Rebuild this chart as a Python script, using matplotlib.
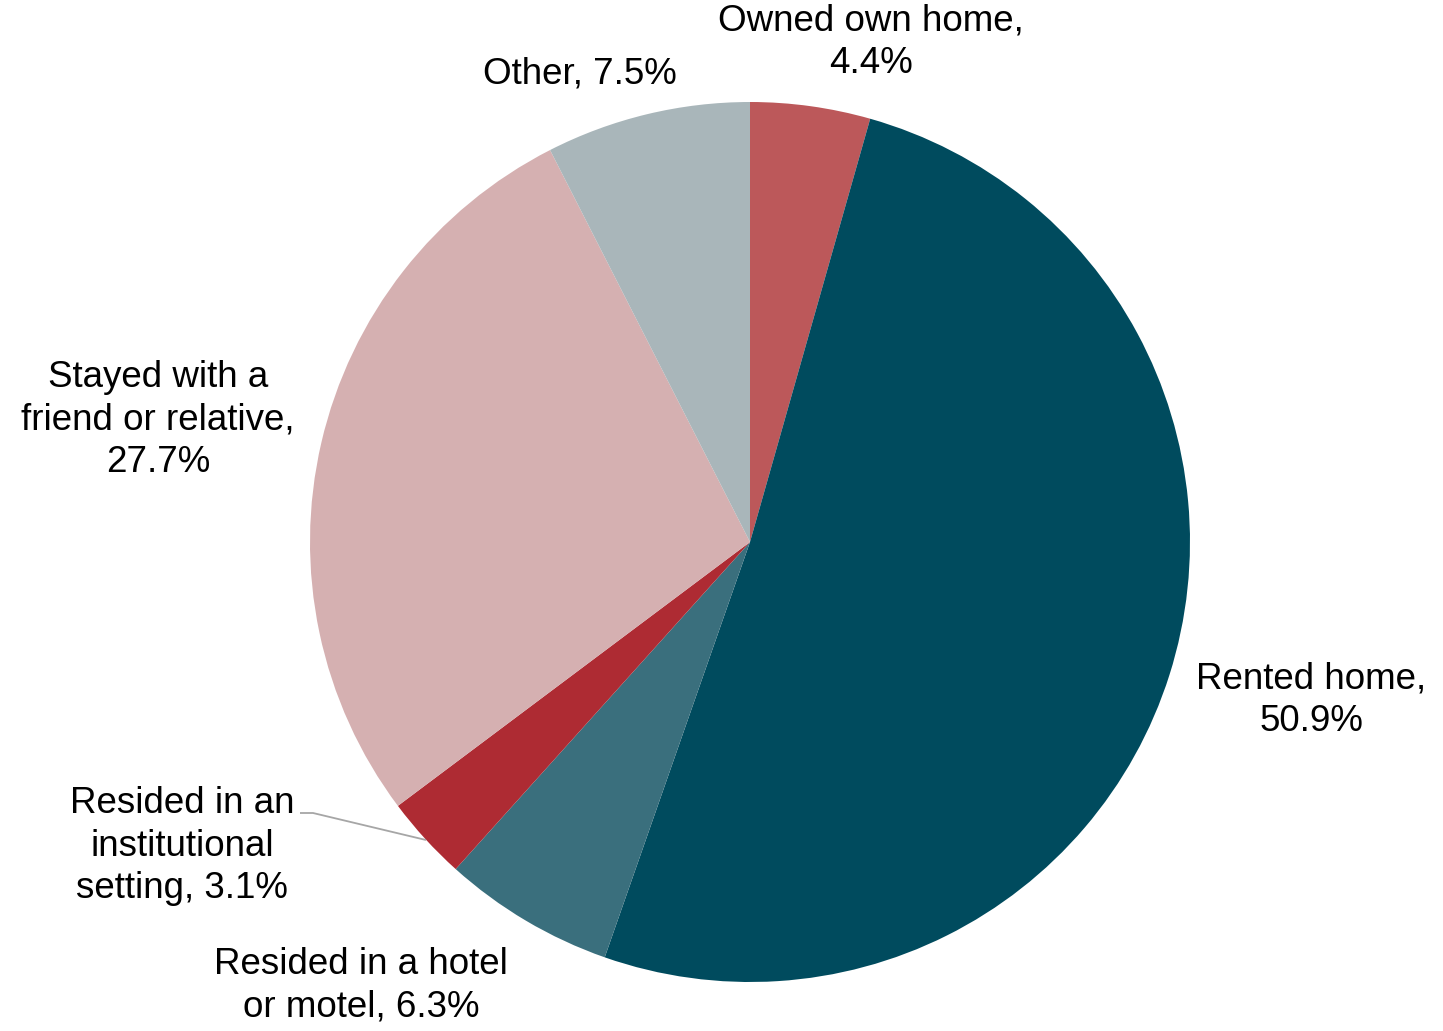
import matplotlib
matplotlib.use("Agg")
import matplotlib.pyplot as plt

plt.rcParams['font.family'] = ['Liberation Sans', 'DejaVu Sans']

categories = ["Owned own home", "Rented home", "Resided in a hotel or motel",
              "Resided in an institutional setting", "Stayed with a friend or relative",
              "Other"]
shares = [4.4, 50.9, 6.3, 3.1, 27.7, 7.5]
label_texts = ["Owned own home,\n4.4%", "Rented home,\n50.9%", "Resided in a hotel\nor motel, 6.3%",
               "Resided in an\ninstitutional\nsetting, 3.1%", "Stayed with a\nfriend or relative,\n27.7%",
               "Other, 7.5%"]
colors = ["#BC585A", "#004B5E", "#3A6F7D", "#AE2B33", "#D5B0B1", "#A9B6BA"]

W, H = 1443, 1031
fig = plt.figure(figsize=(W / 100, H / 100), dpi=100)
ax = fig.add_axes([0, 0, 1, 1])

cx, cy, r = 750, H - 542, 440
ax.pie(shares, colors=colors, startangle=90, counterclock=False,
       center=(cx, cy), radius=r, frame=True,
       wedgeprops=dict(linewidth=0))
ax.set_xlim(0, W)
ax.set_ylim(0, H)
ax.set_aspect('equal')
ax.axis('off')

# label anchor points (pixel coordinates measured from the top edge)
label_pos = [(871, 42), (1311, 700), (361, 986), (182, 846), (158, 420), (580, 74)]
for txt, (x, y) in zip(label_texts, label_pos):
    ax.text(x, H - y, txt, ha='center', va='center', fontsize=26.5,
            linespacing=1.27, color='#000000')

# leader line for the small institutional slice
ax.plot([300, 313, 426], [H - 813, H - 813, H - 840], color='#A6A6A6', lw=1.3,
        solid_capstyle='butt')

fig.savefig("out.png", dpi=100)
